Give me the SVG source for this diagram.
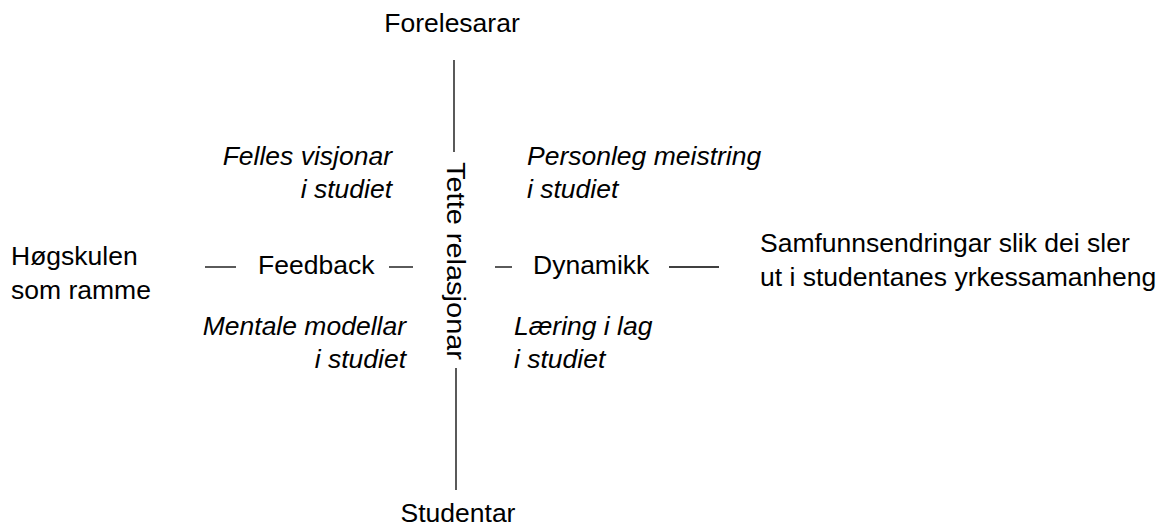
<svg xmlns="http://www.w3.org/2000/svg" width="1166" height="532" viewBox="0 0 1166 532">
<style>
text{font-family:"Liberation Sans",Arial,sans-serif;font-size:26.5px;fill:#000}
.it{font-style:italic}
.end{text-anchor:end}
.mid{text-anchor:middle}
line{stroke:#000;stroke-width:1.3}
</style>
<rect width="1166" height="532" fill="#fff"/>
<g id="connectors">
<line x1="454" y1="60" x2="454" y2="152"/>
<line x1="456" y1="368" x2="456" y2="490"/>
<line x1="205" y1="267" x2="236" y2="267"/>
<line x1="389" y1="267" x2="413" y2="267"/>
<line x1="495" y1="267" x2="512" y2="267"/>
<line x1="669" y1="267" x2="719" y2="267"/>
</g>
<g id="forelesarar"><text class="mid" x="452" y="32">Forelesarar</text></g>
<g id="studentar"><text class="mid" x="458" y="522">Studentar</text></g>
<g id="tette"><text class="mid" transform="translate(447,261) rotate(90)" textLength="198" lengthAdjust="spacingAndGlyphs">Tette relasjonar</text></g>
<g id="hogskulen"><text x="11" y="265">Høgskulen</text><text x="11" y="299">som ramme</text></g>
<g id="feedback"><text x="258" y="274">Feedback</text></g>
<g id="dynamikk"><text x="533" y="274">Dynamikk</text></g>
<g id="samfunn"><text x="760" y="252">Samfunnsendringar slik dei sler</text><text x="760" y="286">ut i studentanes yrkessamanheng</text></g>
<g id="felles"><text class="it end" x="392" y="165">Felles visjonar</text><text class="it end" x="392" y="198">i studiet</text></g>
<g id="personleg"><text class="it" x="527" y="165">Personleg meistring</text><text class="it" x="527" y="198">i studiet</text></g>
<g id="mentale"><text class="it end" x="406" y="335">Mentale modellar</text><text class="it end" x="406" y="368">i studiet</text></g>
<g id="laering"><text class="it" x="514" y="335">Læring i lag</text><text class="it" x="514" y="368">i studiet</text></g>
</svg>
